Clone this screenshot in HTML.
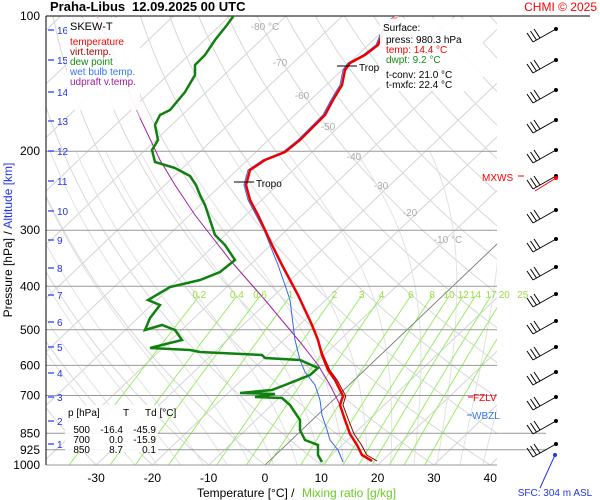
<!DOCTYPE html>
<html><head><meta charset="utf-8"><style>
html,body{margin:0;padding:0;background:#fff;width:600px;height:500px;overflow:hidden}
svg{display:block;font-family:"Liberation Sans",sans-serif}
</style></head><body>
<svg id="s" width="600" height="500" xmlns="http://www.w3.org/2000/svg">
<defs><clipPath id="c"><rect x="46" y="16" width="451" height="449"/></clipPath></defs>
<g id="bg" clip-path="url(#c)"></g>
<g id="hl"></g>
<g id="data" clip-path="url(#c)"></g>
<g id="fg"></g>
</svg>
<script>
var NS="http://www.w3.org/2000/svg";
function Y(p){return 16+195*Math.log(p/100);}
function X(T,y){return 265+5.63*T+1.05*(465-y);}
function el(g,tag,a,txt){var e=document.createElementNS(NS,tag);for(var k in a)e.setAttribute(k,a[k]);if(txt!==undefined)e.textContent=txt;document.getElementById(g).appendChild(e);return e;}
function pl(g,pts,st,w,extra){var a={points:pts.map(function(q){return q[0].toFixed(1)+","+q[1].toFixed(1)}).join(" "),fill:"none",stroke:st,"stroke-width":w};for(var k in extra)a[k]=extra[k];el(g,"polyline",a);}
// isotherms
for(var T=-140;T<=50;T+=10){pl("bg",[[X(T,465),465],[X(T,16),16]],"#d4d4d4",1);}
// dry adiabats
for(var th=-30;th<=200;th+=10){var pts=[];for(var p=1050;p>=100;p-=10){var t=(th+273.15)*Math.pow(p/1000,0.286)-273.15;var y=Y(p);pts.push([X(t,y),y]);}pl("bg",pts,"#d8d8d8",1);}
// moist adiabats
function es(t){return 6.112*Math.exp(17.67*t/(t+243.5));}
for(var t0=-20;t0<=40;t0+=4){var t=t0,pts=[];for(var p=1050;p>=200;p-=5){var y=Y(p);pts.push([X(t,y),y]);var TK=t+273.15,e=es(t),rs=0.622*e/(p-e),L=2.5e6;var g=(287*TK+L*rs)/(1004+L*L*rs*0.622/(287*TK*TK))/p;t-=g*5;}pl("bg",pts,"#e2e2e2",1);}
// mixing ratio
var ws=[0.2,0.4,0.6,1,2,3,4,6,8,10,12,14,17,20,25];
ws.forEach(function(w){var pts=[];for(var p=1000;p>=420;p-=10){var e=w*p/(622+w),l=Math.log(e/6.112),td=243.5*l/(17.67-l),y=Y(p);pts.push([X(td,y),y]);}pl("bg",pts,"#99ee66",1);
var e=w*420/(622+w),l=Math.log(e/6.112),td=243.5*l/(17.67-l);el("fg","text",{x:X(td,Y(420)),y:298,"font-size":10,fill:"#99dd44","text-anchor":"middle"},String(w));});
// 0C thin line
pl("bg",[[X(0,465),465],[X(0,16),16]],"#777",0.8);
// pressure lines
[[200,497],[300,497],[400,497],[500,497],[600,497],[700,497],[850,546],[925,546],[1000,497]].forEach(function(a){var y=Y(a[0]);pl("hl",[[46,y],[a[1],y]],"#999",1);});
pl("hl",[[46,16],[590,16]],"#000",1);pl("hl",[[46,16],[46,465]],"#000",1);
// isotherm labels
[[-80,265,30],[-70,280,66],[-60,302,99],[-50,328,130],[-40,354,160],[-30,381,189],[-20,410,216],[-10,448,243]].forEach(function(a){el("fg","text",{x:a[1],y:a[2],"font-size":10,fill:"#aaa","text-anchor":"middle"},a[0]+(a[0]==-80||a[0]==-10?" °C":""));});
// data
var temp=[[372,461],[362,455],[357,445],[350,434],[345,420],[340,405],[343,396],[335,380],[328,370],[322,355],[318,340],[312,325],[305,310],[298,295],[290,280],[282,265],[272,245],[265,230],[258,215],[250,200],[246,185],[250,170],[265,160],[285,152],[300,140],[315,125],[325,115],[333,100],[342,85],[345,70],[350,63],[365,55],[378,45],[382,35],[392,20],[398,15]];
var vt=temp.map(function(q){var d=q[1]>350?(q[1]-350)/110*4+1:0;return [q[0]+d,q[1]];});
var wb=[[343,462],[338,450],[330,440],[327,430],[322,415],[320,400],[315,385],[305,372],[300,360],[295,340],[290,300],[285,285],[278,265],[270,245],[264,230]].concat(temp.slice(18).map(function(q){return [q[0]-2,q[1]];}));
var dew=[[322,462],[318,455],[318,445],[305,440],[300,430],[300,420],[290,405],[282,398],[255,397],[275,394],[240,393],[272,390],[285,385],[310,375],[318,368],[300,360],[265,358],[262,355],[200,352],[190,350],[150,348],[182,340],[175,330],[162,325],[145,330],[150,318],[160,305],[148,300],[170,287],[200,280],[220,272],[235,260],[225,245],[215,235],[210,220],[205,205],[200,195],[196,185],[190,176],[175,168],[155,162],[152,150],[158,140],[155,125],[160,115],[170,110],[185,92],[195,75],[195,65],[205,55],[215,40],[227,25],[235,14]];
var up=[[340,405],[330,385],[318,365],[300,342],[265,300],[230,260],[195,215],[175,185],[160,160],[140,118],[97,16]];
pl("data",up,"#a020a0",1);pl("data",[[140,118],[97,16]],"#e0a0e0",1);
pl("data",wb,"#3366ee",1);
pl("data",vt,"#8b0000",1);
pl("data",dew,"#108010",2.5);
pl("data",temp,"#ee0000",2.5);
pl("data",[[382,35],[392,20],[398,15]],"#ffaaaa",2.5);
// tropo marks
pl("fg",[[234,182],[254,182]],"#000",1);el("fg","text",{x:256,y:187,"font-size":10},"Tropo");
pl("fg",[[337,66],[357,66]],"#000",1);el("fg","text",{x:359,y:71,"font-size":10},"Trop");
// left labels
[[100,"100"],[200,"200"],[300,"300"],[400,"400"],[500,"500"],[600,"600"],[700,"700"],[850,"850"],[925,"925"],[1000,"1000"]].forEach(function(a){el("fg","text",{x:40,y:Y(a[0])+4,"font-size":12,"text-anchor":"end"},a[1]);});
[[16,30],[15,60],[14,92],[13,121],[12,151],[11,181],[10,211],[9,240],[8,268],[7,295],[6,322],[5,347],[4,373],[3,397],[2,421],[1,444]].forEach(function(a){pl("fg",[[48,a[1]],[54,a[1]]],"#2233ee",1.2);el("fg","text",{x:57,y:a[1]+4,"font-size":10,fill:"#2233ee"},String(a[0]));});
[-30,-20,-10,0,10,20,30,40].forEach(function(t){el("fg","text",{x:265+5.63*t,y:482,"font-size":12,"text-anchor":"middle"},String(t));});
// barbs
[29,60,90,120,150,176,210,239,267,294,321,347,372,397,421,444].forEach(function(y,i){
 var col="#000";pl("fg",[[556,y],[533,y+13]],col,1);el("fg","circle",{cx:556,cy:y,r:2,fill:col});
 for(var k=0;k<3;k++){var bx=533+k*3.5,by=y+13-k*2;pl("fg",[[bx,by],[bx-6,by-9]],col,1);}
});
pl("fg",[[556,178],[535,191]],"#f00",1);el("fg","circle",{cx:556,cy:178,r:2,fill:"#f00"});
pl("fg",[[555,455],[540,488]],"#2233ee",1);el("fg","circle",{cx:555,cy:455,r:2,fill:"#2233ee"});
</script>
<svg style="position:absolute;left:0;top:0" width="600" height="500" xmlns="http://www.w3.org/2000/svg" font-family="Liberation Sans,sans-serif">
<text x="50" y="11" font-size="13" font-weight="bold">Praha-Libus</text>
<text x="132" y="11" font-size="13" font-weight="bold">12.09.2025 00 UTC</text>
<text x="597" y="11" font-size="12" fill="#f00" text-anchor="end">CHMI © 2025</text>
<rect x="67" y="18" width="73" height="92" fill="#fff" opacity="0.9"/>
<text x="70" y="30" font-size="11">SKEW-T</text>
<g font-size="10"><text x="70" y="45" fill="#f00">temperature</text><text x="70" y="55" fill="#a00">virt.temp.</text><text x="70" y="65" fill="#109010">dew point</text><text x="70" y="75" fill="#3377ee">wet bulb temp.</text><text x="70" y="85" fill="#a020a0">udpraft v.temp.</text></g>
<rect x="380" y="19" width="103" height="72" fill="#fff" opacity="0.9"/>
<g font-size="10"><text x="383" y="31">Surface:</text><text x="386" y="43">press: 980.3 hPa</text><text x="386" y="53" fill="#f00">temp: 14.4 °C</text><text x="386" y="63" fill="#109010">dwpt: 9.2 °C</text><text x="386" y="78">t-conv: 21.0 °C</text><text x="386" y="88">t-mxfc: 22.4 °C</text></g>
<rect x="65" y="405" width="93" height="47" fill="#fff" opacity="0.9"/>
<g font-size="10"><text x="68" y="416">p [hPa]</text><text x="123" y="416">T</text><text x="145" y="416">Td [°C]</text>
<text x="90" y="433" text-anchor="end">500</text><text x="123" y="433" text-anchor="end">-16.4</text><text x="156" y="433" text-anchor="end">-45.9</text>
<text x="90" y="443" text-anchor="end">700</text><text x="123" y="443" text-anchor="end">0.0</text><text x="156" y="443" text-anchor="end">-15.9</text>
<text x="90" y="453" text-anchor="end">850</text><text x="123" y="453" text-anchor="end">8.7</text><text x="156" y="453" text-anchor="end">0.1</text></g>
<line x1="468" y1="397" x2="473" y2="397" stroke="#f00"/><text x="473" y="401" font-size="10" fill="#f00">FZLV</text>
<line x1="467" y1="415" x2="472" y2="415" stroke="#3377ee"/><text x="472" y="419" font-size="10" fill="#3377ee">WBZL</text>
<line x1="518" y1="176" x2="524" y2="176" stroke="#f00"/><text x="482" y="181" font-size="10" fill="#f00">MXWS</text>
<text x="555" y="496" font-size="10" fill="#2233ee" text-anchor="middle">SFC: 304 m ASL</text>
<text x="197" y="497" font-size="12">Temperature [°C]  /</text><text x="302" y="497" font-size="12" fill="#66cc22">Mixing ratio [g/kg]</text>
<text transform="translate(12,240) rotate(-90)" font-size="12" text-anchor="middle"><tspan>Pressure [hPa]  /  </tspan><tspan fill="#2233ee">Altitude [km]</tspan></text>
</svg>
</body></html>
